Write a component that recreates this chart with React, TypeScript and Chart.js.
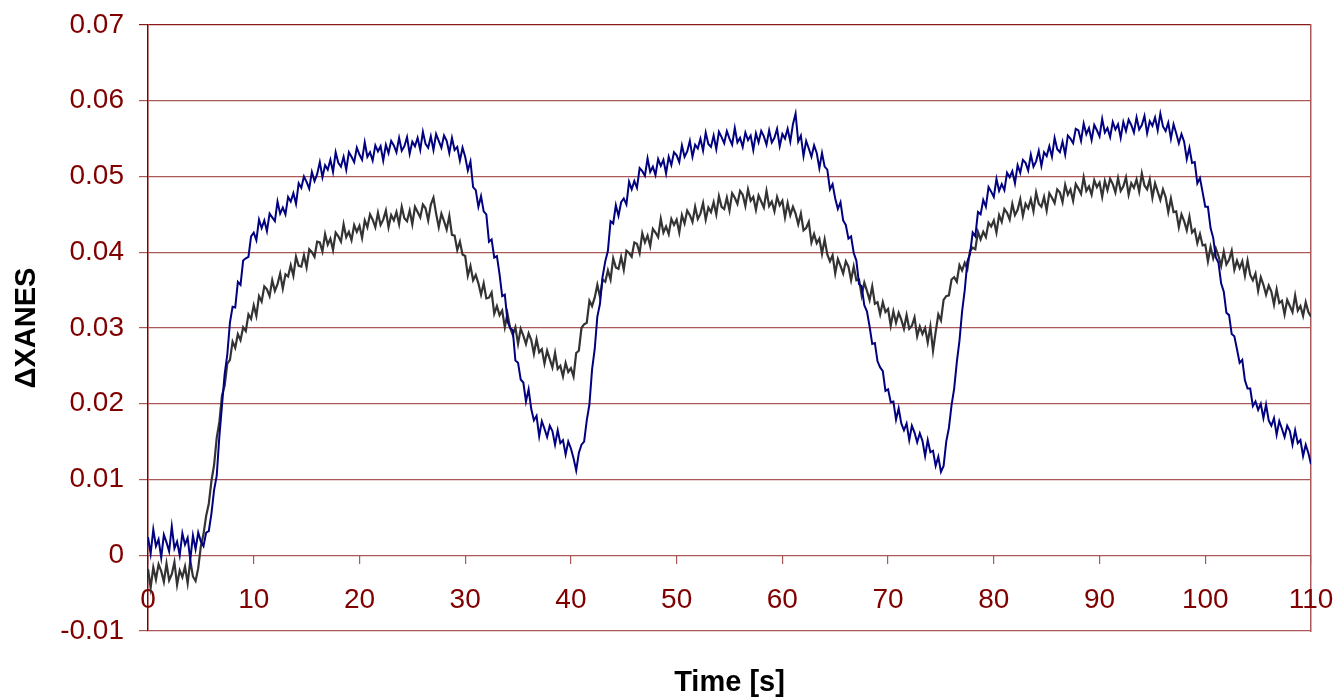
import React, { useEffect, useRef } from "react";
import { Chart, registerables } from "chart.js";

Chart.register(...registerables);

// Sampling step of the recorded time series [s]
const SAMPLE_STEP = 0.25;

// Blue (navy) series, one value per 0.25 s from 0 to 110 s (20 values per row = 5 s)
const SERIES_BLUE: number[] = [
  0.0024, 0.0002, 0.0034, 0.0012, 0.0021, -0.0003, 0.0027, 0.0017, 0.0005, 0.0038, 0.0009, 0.0018, 0.0000, 0.0029, 0.0014, 0.0023, -0.0006, 0.0026, 0.0008, 0.0030,
  0.0018, 0.0012, 0.0030, 0.0032, 0.0055, 0.0086, 0.0105, 0.0157, 0.0198, 0.0239, 0.0265, 0.0307, 0.0328, 0.0327, 0.0361, 0.0357, 0.0389, 0.0392, 0.0394, 0.0421,
  0.0426, 0.0416, 0.0443, 0.0432, 0.0442, 0.0428, 0.0451, 0.0446, 0.0441, 0.0467, 0.0451, 0.0459, 0.0450, 0.0473, 0.0467, 0.0478, 0.0464, 0.0491, 0.0485, 0.0500,
  0.0493, 0.0484, 0.0506, 0.0494, 0.0503, 0.0519, 0.0499, 0.0515, 0.0509, 0.0522, 0.0506, 0.0532, 0.0518, 0.0513, 0.0526, 0.0509, 0.0532, 0.0526, 0.0519, 0.0538,
  0.0529, 0.0522, 0.0545, 0.0526, 0.0532, 0.0521, 0.0541, 0.0533, 0.0540, 0.0521, 0.0542, 0.0531, 0.0547, 0.0541, 0.0532, 0.0551, 0.0534, 0.0540, 0.0552, 0.0530,
  0.0546, 0.0540, 0.0551, 0.0535, 0.0559, 0.0543, 0.0538, 0.0553, 0.0535, 0.0556, 0.0547, 0.0538, 0.0554, 0.0547, 0.0531, 0.0551, 0.0535, 0.0539, 0.0521, 0.0538,
  0.0526, 0.0508, 0.0520, 0.0486, 0.0482, 0.0460, 0.0474, 0.0454, 0.0450, 0.0414, 0.0417, 0.0393, 0.0395, 0.0371, 0.0342, 0.0344, 0.0309, 0.0300, 0.0297, 0.0257,
  0.0254, 0.0232, 0.0228, 0.0203, 0.0219, 0.0193, 0.0178, 0.0184, 0.0157, 0.0177, 0.0167, 0.0156, 0.0171, 0.0164, 0.0146, 0.0165, 0.0148, 0.0152, 0.0133, 0.0150,
  0.0141, 0.0128, 0.0112, 0.0135, 0.0146, 0.0150, 0.0178, 0.0199, 0.0245, 0.0272, 0.0315, 0.0332, 0.0368, 0.0388, 0.0402, 0.0441, 0.0438, 0.0462, 0.0448, 0.0466,
  0.0471, 0.0463, 0.0493, 0.0483, 0.0494, 0.0485, 0.0511, 0.0507, 0.0501, 0.0524, 0.0506, 0.0513, 0.0502, 0.0523, 0.0514, 0.0522, 0.0504, 0.0526, 0.0515, 0.0532,
  0.0528, 0.0519, 0.0541, 0.0526, 0.0533, 0.0547, 0.0526, 0.0542, 0.0537, 0.0550, 0.0534, 0.0558, 0.0543, 0.0539, 0.0554, 0.0536, 0.0559, 0.0552, 0.0544, 0.0560,
  0.0550, 0.0542, 0.0564, 0.0545, 0.0551, 0.0539, 0.0558, 0.0548, 0.0554, 0.0535, 0.0557, 0.0545, 0.0560, 0.0553, 0.0542, 0.0561, 0.0545, 0.0551, 0.0563, 0.0540,
  0.0556, 0.0550, 0.0563, 0.0546, 0.0569, 0.0583, 0.0546, 0.0554, 0.0527, 0.0547, 0.0537, 0.0526, 0.0541, 0.0531, 0.0511, 0.0531, 0.0513, 0.0509, 0.0483, 0.0490,
  0.0471, 0.0457, 0.0466, 0.0442, 0.0436, 0.0418, 0.0421, 0.0399, 0.0389, 0.0358, 0.0355, 0.0330, 0.0322, 0.0302, 0.0279, 0.0280, 0.0256, 0.0248, 0.0243, 0.0217,
  0.0219, 0.0202, 0.0203, 0.0179, 0.0194, 0.0174, 0.0165, 0.0174, 0.0152, 0.0171, 0.0162, 0.0149, 0.0161, 0.0151, 0.0131, 0.0152, 0.0136, 0.0138, 0.0118, 0.0130,
  0.0110, 0.0118, 0.0150, 0.0168, 0.0198, 0.0220, 0.0255, 0.0283, 0.0322, 0.0350, 0.0388, 0.0398, 0.0426, 0.0421, 0.0453, 0.0450, 0.0469, 0.0460, 0.0486, 0.0480,
  0.0473, 0.0497, 0.0481, 0.0490, 0.0482, 0.0505, 0.0499, 0.0507, 0.0491, 0.0515, 0.0505, 0.0522, 0.0518, 0.0508, 0.0529, 0.0513, 0.0520, 0.0534, 0.0514, 0.0532,
  0.0527, 0.0540, 0.0526, 0.0551, 0.0536, 0.0532, 0.0546, 0.0529, 0.0554, 0.0550, 0.0544, 0.0563, 0.0561, 0.0547, 0.0570, 0.0556, 0.0564, 0.0548, 0.0568, 0.0561,
  0.0553, 0.0576, 0.0558, 0.0564, 0.0552, 0.0572, 0.0562, 0.0569, 0.0551, 0.0572, 0.0560, 0.0575, 0.0568, 0.0558, 0.0578, 0.0562, 0.0568, 0.0580, 0.0557, 0.0573,
  0.0567, 0.0578, 0.0561, 0.0583, 0.0566, 0.0560, 0.0571, 0.0550, 0.0569, 0.0557, 0.0544, 0.0556, 0.0546, 0.0523, 0.0538, 0.0518, 0.0519, 0.0491, 0.0498, 0.0479,
  0.0460, 0.0460, 0.0432, 0.0419, 0.0393, 0.0386, 0.0359, 0.0348, 0.0320, 0.0317, 0.0292, 0.0289, 0.0272, 0.0254, 0.0258, 0.0231, 0.0220, 0.0220, 0.0197, 0.0203,
  0.0192, 0.0200, 0.0181, 0.0199, 0.0178, 0.0171, 0.0181, 0.0159, 0.0177, 0.0167, 0.0156, 0.0171, 0.0164, 0.0146, 0.0165, 0.0148, 0.0152, 0.0131, 0.0146, 0.0135,
  0.0120,
];

// Dark grey series, one value per 0.25 s from 0 to 110 s (20 values per row = 5 s)
const SERIES_GREY: number[] = [
  -0.0018, -0.0043, -0.0016, -0.0032, -0.0012, -0.0021, -0.0035, -0.0011, -0.0033, -0.0025, -0.0009, -0.0039, -0.0020, -0.0029, -0.0015, -0.0037, -0.0007, -0.0028, -0.0034, -0.0017,
  0.0012, 0.0028, 0.0052, 0.0068, 0.0098, 0.0119, 0.0155, 0.0176, 0.0211, 0.0224, 0.0253, 0.0258, 0.0282, 0.0274, 0.0292, 0.0284, 0.0301, 0.0296, 0.0318, 0.0312,
  0.0330, 0.0316, 0.0342, 0.0335, 0.0355, 0.0351, 0.0342, 0.0363, 0.0349, 0.0358, 0.0372, 0.0352, 0.0371, 0.0368, 0.0383, 0.0369, 0.0394, 0.0382, 0.0381, 0.0396,
  0.0380, 0.0404, 0.0400, 0.0394, 0.0414, 0.0413, 0.0401, 0.0424, 0.0410, 0.0418, 0.0403, 0.0426, 0.0421, 0.0414, 0.0437, 0.0420, 0.0427, 0.0416, 0.0436, 0.0427,
  0.0435, 0.0419, 0.0442, 0.0433, 0.0450, 0.0443, 0.0433, 0.0452, 0.0436, 0.0443, 0.0455, 0.0433, 0.0449, 0.0442, 0.0453, 0.0437, 0.0460, 0.0445, 0.0441, 0.0455,
  0.0437, 0.0460, 0.0453, 0.0446, 0.0463, 0.0458, 0.0442, 0.0463, 0.0472, 0.0451, 0.0433, 0.0451, 0.0441, 0.0430, 0.0448, 0.0423, 0.0422, 0.0403, 0.0414, 0.0397,
  0.0395, 0.0369, 0.0382, 0.0363, 0.0370, 0.0359, 0.0344, 0.0359, 0.0339, 0.0340, 0.0347, 0.0319, 0.0329, 0.0317, 0.0323, 0.0301, 0.0319, 0.0300, 0.0291, 0.0301,
  0.0279, 0.0299, 0.0290, 0.0279, 0.0293, 0.0284, 0.0266, 0.0285, 0.0268, 0.0272, 0.0253, 0.0270, 0.0259, 0.0248, 0.0267, 0.0246, 0.0250, 0.0236, 0.0254, 0.0242,
  0.0247, 0.0236, 0.0267, 0.0270, 0.0300, 0.0305, 0.0307, 0.0336, 0.0329, 0.0340, 0.0357, 0.0341, 0.0364, 0.0361, 0.0376, 0.0364, 0.0392, 0.0380, 0.0378, 0.0394,
  0.0377, 0.0402, 0.0399, 0.0394, 0.0413, 0.0411, 0.0399, 0.0425, 0.0413, 0.0422, 0.0408, 0.0431, 0.0426, 0.0420, 0.0444, 0.0426, 0.0434, 0.0424, 0.0444, 0.0436,
  0.0443, 0.0426, 0.0449, 0.0438, 0.0455, 0.0449, 0.0440, 0.0460, 0.0444, 0.0451, 0.0465, 0.0443, 0.0459, 0.0453, 0.0466, 0.0450, 0.0474, 0.0460, 0.0457, 0.0472,
  0.0455, 0.0478, 0.0472, 0.0464, 0.0481, 0.0476, 0.0461, 0.0483, 0.0468, 0.0473, 0.0456, 0.0475, 0.0467, 0.0459, 0.0481, 0.0461, 0.0467, 0.0454, 0.0473, 0.0462,
  0.0468, 0.0446, 0.0465, 0.0449, 0.0460, 0.0451, 0.0437, 0.0451, 0.0429, 0.0432, 0.0440, 0.0413, 0.0424, 0.0412, 0.0418, 0.0398, 0.0417, 0.0397, 0.0388, 0.0396,
  0.0372, 0.0391, 0.0382, 0.0372, 0.0388, 0.0381, 0.0363, 0.0381, 0.0363, 0.0364, 0.0343, 0.0360, 0.0349, 0.0337, 0.0355, 0.0332, 0.0334, 0.0318, 0.0334, 0.0321,
  0.0325, 0.0303, 0.0322, 0.0307, 0.0320, 0.0311, 0.0299, 0.0317, 0.0299, 0.0303, 0.0314, 0.0289, 0.0302, 0.0292, 0.0300, 0.0281, 0.0302, 0.0270, 0.0295, 0.0318,
  0.0310, 0.0337, 0.0342, 0.0343, 0.0364, 0.0367, 0.0361, 0.0383, 0.0376, 0.0386, 0.0378, 0.0402, 0.0406, 0.0404, 0.0427, 0.0417, 0.0427, 0.0420, 0.0439, 0.0434,
  0.0442, 0.0426, 0.0449, 0.0440, 0.0457, 0.0452, 0.0443, 0.0464, 0.0449, 0.0456, 0.0470, 0.0448, 0.0464, 0.0458, 0.0470, 0.0454, 0.0479, 0.0464, 0.0460, 0.0473,
  0.0455, 0.0478, 0.0472, 0.0465, 0.0483, 0.0479, 0.0466, 0.0489, 0.0476, 0.0483, 0.0468, 0.0490, 0.0484, 0.0477, 0.0499, 0.0481, 0.0487, 0.0476, 0.0495, 0.0486,
  0.0492, 0.0473, 0.0494, 0.0482, 0.0497, 0.0490, 0.0479, 0.0498, 0.0481, 0.0487, 0.0499, 0.0476, 0.0491, 0.0485, 0.0496, 0.0480, 0.0504, 0.0488, 0.0483, 0.0496,
  0.0472, 0.0491, 0.0480, 0.0469, 0.0483, 0.0473, 0.0453, 0.0471, 0.0453, 0.0454, 0.0433, 0.0450, 0.0441, 0.0429, 0.0447, 0.0426, 0.0430, 0.0412, 0.0424, 0.0409,
  0.0410, 0.0388, 0.0407, 0.0392, 0.0405, 0.0395, 0.0382, 0.0401, 0.0384, 0.0390, 0.0402, 0.0377, 0.0389, 0.0379, 0.0388, 0.0369, 0.0389, 0.0370, 0.0363, 0.0372,
  0.0349, 0.0367, 0.0357, 0.0344, 0.0356, 0.0348, 0.0331, 0.0351, 0.0333, 0.0336, 0.0318, 0.0337, 0.0329, 0.0321, 0.0343, 0.0323, 0.0329, 0.0316, 0.0334, 0.0321,
  0.0315,
];

const X_MIN = 0;
const X_MAX = 110;
const X_STEP = 10;
const Y_MIN = -0.01;
const Y_MAX = 0.07;
const Y_STEP = 0.01;

const X_TITLE = "Time [s]";
const Y_TITLE = "\u0394XANES";

const DARK_RED = "#800000";
const GRID_RED = "#ac5858";
const FONT_FAMILY = "'Liberation Sans', Arial, sans-serif";

export default function App() {
  const canvasRef = useRef<HTMLCanvasElement | null>(null);

  useEffect(() => {
    const canvas = canvasRef.current;
    if (!canvas) return;

    const blueData = SERIES_BLUE.map((v, i) => ({ x: i * SAMPLE_STEP, y: v }));
    const greyData = SERIES_GREY.map((v, i) => ({ x: i * SAMPLE_STEP, y: v }));

    const chart = new Chart(canvas, {
      type: "line",
      data: {
        datasets: [
          {
            label: "blue",
            data: blueData,
            borderColor: "#000080",
            borderWidth: 2,
            pointRadius: 0,
            tension: 0,
            fill: false,
            yAxisID: "y",
            xAxisID: "x",
          },
          {
            label: "grey",
            data: greyData,
            borderColor: "#333333",
            borderWidth: 2.2,
            pointRadius: 0,
            tension: 0,
            fill: false,
            yAxisID: "y",
            xAxisID: "x",
          },
        ],
      },
      options: {
        responsive: false,
        animation: false,
        devicePixelRatio: 1,
        layout: { padding: { left: 0, top: 25, right: 27, bottom: 68 } },
        plugins: {
          legend: { display: false },
          tooltip: { enabled: false },
        },
        scales: {
          y: {
            type: "linear",
            position: "left",
            min: Y_MIN,
            max: Y_MAX,
            afterFit: (scale: any) => {
              scale.width = 148;
              scale.paddingTop = 0;
              scale.paddingBottom = 0;
            },
            ticks: {
              stepSize: Y_STEP,
              padding: 15,
              color: DARK_RED,
              font: { family: FONT_FAMILY, size: 28 },
              callback: (v: any) => {
                const r = Math.round(Number(v) * 100) / 100;
                return r === 0 ? "0" : String(r);
              },
            },
            grid: {
              display: true,
              drawOnChartArea: true,
              drawTicks: true,
              tickLength: 9,
              lineWidth: 1.2,
              color: (ctx: any) =>
                ctx.tick && Math.abs(ctx.tick.value - Y_MAX) < 1e-9 ? "#8a1a1a" : GRID_RED,
            },
            border: { display: true, color: DARK_RED, width: 1.5 },
            title: {
              display: true,
              text: Y_TITLE,
              color: "#000000",
              padding: { top: 10, bottom: 0 },
              font: { family: FONT_FAMILY, size: 29, weight: "bold" },
            },
          },
          y2: {
            type: "linear",
            position: "right",
            min: Y_MIN,
            max: Y_MAX,
            afterFit: (scale: any) => {
              scale.width = 0;
              scale.paddingTop = 0;
              scale.paddingBottom = 0;
            },
            ticks: { display: false },
            grid: { display: false, drawTicks: false },
            border: { display: true, color: GRID_RED, width: 1.5 },
          },
          x: {
            type: "linear",
            position: { y: 0 } as any,
            min: X_MIN,
            max: X_MAX,
            afterFit: (scale: any) => {
              scale.height = 145;
              scale.paddingLeft = 0;
              scale.paddingRight = 0;
            },
            ticks: {
              stepSize: X_STEP,
              padding: 19,
              maxRotation: 0,
              autoSkip: false,
              color: DARK_RED,
              font: { family: FONT_FAMILY, size: 28 },
              callback: (v: any) => String(Math.round(Number(v))),
            },
            grid: {
              display: true,
              drawOnChartArea: false,
              drawTicks: true,
              tickLength: 9,
              lineWidth: 1.2,
              color: GRID_RED,
            },
            border: { display: false },
            title: {
              display: true,
              text: X_TITLE,
              color: "#000000",
              padding: { top: 0, bottom: 0 },
              font: { family: FONT_FAMILY, size: 29, weight: "bold" },
            },
          },
        },
      } as any,
    });

    return () => {
      chart.destroy();
    };
  }, []);

  return (
    <div
      style={{
        position: "fixed",
        left: 0,
        top: 0,
        width: 1338,
        height: 699,
        background: "#ffffff",
      }}
    >
      <canvas ref={canvasRef} width={1338} height={699} style={{ display: "block" }} />
    </div>
  );
}
